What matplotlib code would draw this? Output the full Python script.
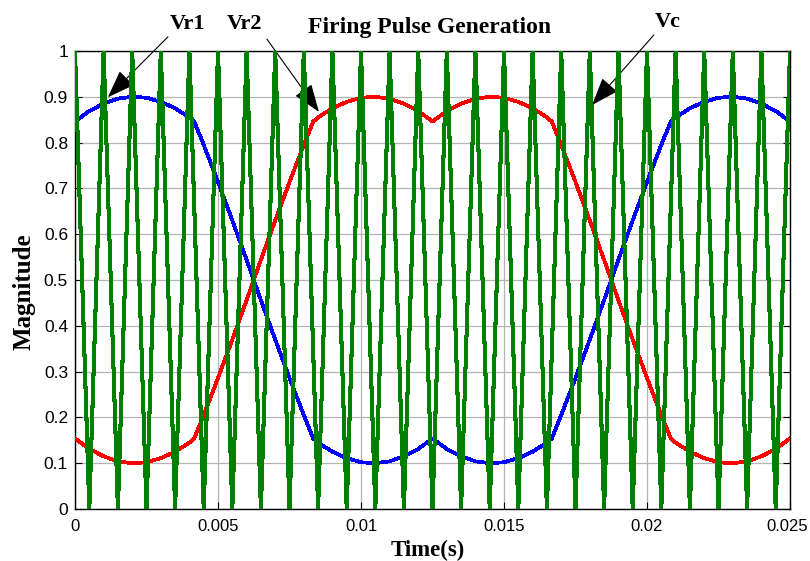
import matplotlib
matplotlib.use('Agg')
import matplotlib.pyplot as plt
from matplotlib.transforms import ScaledTranslation

# carrier (Vc): triangle vertices, 1 ms period
carrier_t = [0, 0.0005, 0.001, 0.0015, 0.002, 0.0025, 0.003, 0.0035, 0.004, 0.0045,
             0.005, 0.0055, 0.006, 0.0065, 0.007, 0.0075, 0.008, 0.0085, 0.009, 0.0095,
             0.01, 0.0105, 0.011, 0.0115, 0.012, 0.0125, 0.013, 0.0135, 0.014, 0.0145,
             0.015, 0.0155, 0.016, 0.0165, 0.017, 0.0175, 0.018, 0.0185, 0.019, 0.0195,
             0.02, 0.0205, 0.021, 0.0215, 0.022, 0.0225, 0.023, 0.0235, 0.024, 0.0245,
             0.025]
carrier_v = [1, 0, 1, 0, 1, 0, 1, 0, 1, 0,
             1, 0, 1, 0, 1, 0, 1, 0, 1, 0,
             1, 0, 1, 0, 1, 0, 1, 0, 1, 0,
             1, 0, 1, 0, 1, 0, 1, 0, 1, 0,
             1, 0, 1, 0, 1, 0, 1, 0, 1, 0,
             1]

# reference signals
ref_t = [0, 0.0005, 0.001, 0.0015, 0.002, 0.0025, 0.003, 0.0035, 0.004, 0.00417,
         0.0045, 0.005, 0.0055, 0.006, 0.0065, 0.007, 0.0075, 0.008, 0.00833,
         0.0085, 0.009, 0.0095, 0.01, 0.0105, 0.011, 0.0115, 0.012, 0.0125, 0.013,
         0.0135, 0.014, 0.0145, 0.015, 0.0155, 0.016, 0.0165, 0.01667,
         0.017, 0.0175, 0.018, 0.0185, 0.019, 0.0195, 0.02, 0.0205, 0.02083,
         0.021, 0.0215, 0.022, 0.0225, 0.023, 0.0235, 0.024, 0.0245, 0.025]
vr1 = [0.846, 0.869, 0.885, 0.896, 0.900, 0.898, 0.889, 0.875, 0.855, 0.846,
       0.795, 0.714, 0.630, 0.544, 0.456, 0.370, 0.286, 0.205, 0.154,
       0.145, 0.125, 0.111, 0.102, 0.100, 0.104, 0.115, 0.131, 0.154, 0.131,
       0.115, 0.104, 0.100, 0.102, 0.111, 0.125, 0.145, 0.154,
       0.205, 0.286, 0.370, 0.456, 0.544, 0.630, 0.714, 0.795, 0.846,
       0.855, 0.875, 0.889, 0.898, 0.900, 0.896, 0.885, 0.869, 0.846]
vr2 = [0.154, 0.131, 0.115, 0.104, 0.100, 0.102, 0.111, 0.125, 0.145, 0.154,
       0.205, 0.286, 0.370, 0.456, 0.544, 0.630, 0.714, 0.795, 0.846,
       0.855, 0.875, 0.889, 0.898, 0.900, 0.896, 0.885, 0.869, 0.846, 0.869,
       0.885, 0.896, 0.900, 0.898, 0.889, 0.875, 0.855, 0.846,
       0.795, 0.714, 0.630, 0.544, 0.456, 0.370, 0.286, 0.205, 0.154,
       0.145, 0.125, 0.111, 0.102, 0.100, 0.104, 0.115, 0.131, 0.154]

xticks = [0, 0.005, 0.01, 0.015, 0.02, 0.025]
xtick_labels = ['0', '0.005', '0.01', '0.015', '0.02', '0.025']
yticks = [0, 0.1, 0.2, 0.3, 0.4, 0.5, 0.6, 0.7, 0.8, 0.9, 1]
ytick_labels = ['0', '0.1', '0.2', '0.3', '0.4', '0.5', '0.6', '0.7', '0.8', '0.9', '1']

# annotation text position, arrow tail, arrow tip (data units)
notes = [
    ('Vr1', (0.00392, 1.059), (0.00325, 1.031), (0.00115, 0.899)),
    ('Vr2', (0.00594, 1.059), (0.00671, 1.026), (0.00853, 0.867)),
    ('Vc', (0.02073, 1.063), (0.02024, 1.035), (0.01808, 0.882)),
]

serif = ['Liberation Serif', 'DejaVu Serif']
sans = ['Liberation Sans', 'DejaVu Sans']

fig = plt.figure(figsize=(8.1, 5.61), dpi=100)
ax = fig.add_axes([75 / 810, 1 - 509 / 561, 715 / 810, 458 / 561])

# matlab-like crisp (non antialiased) lines
ax.plot(ref_t, vr1, color='#0000ff', lw=2.0, zorder=3, antialiased=False)
ax.plot(ref_t, vr2, color='#ff0000', lw=2.0, zorder=3, antialiased=False)
ax.plot(carrier_t, carrier_v, color='#008000', lw=2.2, zorder=4, antialiased=False)

ax.set_xlim(0, 0.025)
ax.set_ylim(0, 1)
ax.set_xticks(xticks)
ax.set_xticklabels(xtick_labels, family=sans, fontsize=12)
ax.set_yticks(yticks)
ax.set_yticklabels(ytick_labels, family=sans, fontsize=12.5)
ax.tick_params(direction='in', top=True, right=True, length=5, width=0.8)
ax.tick_params(axis='x', pad=7)
ax.tick_params(axis='y', pad=5)
ax.grid(True, color='#b4b4b4', lw=0.9)
ax.set_axisbelow(True)
for s in ax.spines.values():
    s.set_linewidth(1.0)

# nudge the last x label so it stays inside the figure
last = ax.get_xticklabels()[-1]
last.set_transform(last.get_transform() + ScaledTranslation(-3 / 100, 0, fig.dpi_scale_trans))

for label, txt_pos, tail, tip in notes:
    ax.text(txt_pos[0], txt_pos[1], label, family=serif, fontweight='bold',
            fontsize=16, ha='center', va='center', clip_on=False)
    ax.annotate('', xy=tip, xytext=tail, annotation_clip=False,
                arrowprops=dict(arrowstyle='-|>,head_length=1.1,head_width=0.4',
                                color='black', lw=0.8, mutation_scale=16,
                                shrinkA=0, shrinkB=0))

fig.text(430 / 810, 1 - 28 / 561, 'Firing Pulse Generation', family=serif,
         fontweight='bold', fontsize=17, ha='center', va='center')
fig.text(428 / 810, 1 - 550 / 561, 'Time(s)', family=serif, fontweight='bold',
         fontsize=16.5, ha='center', va='center')
fig.text(24 / 810, 1 - 292 / 561, 'Magnitude', family=serif, fontweight='bold',
         fontsize=18, ha='center', va='center', rotation=90)

fig.savefig('out.png', dpi=100)
